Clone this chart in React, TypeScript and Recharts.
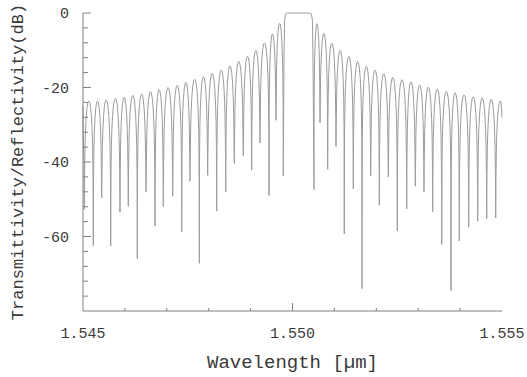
import React from 'react';
import { LineChart, Line, XAxis, YAxis, Label } from 'recharts';

// ---- axis ticks ----
const xTicks = [1.545, 1.546, 1.547, 1.548, 1.549, 1.55, 1.551, 1.552, 1.553, 1.554, 1.555];
const xLabelTicks = [1.545, 1.55, 1.555];
const yTicks = [-80, -76, -72, -68, -64, -60, -56, -52, -48, -44, -40, -36, -32, -28, -24, -20, -16, -12, -8, -4, 0];
const yLabelTicks = [0, -20, -40, -60];

// ---- spectrum ----
// edge values at the ends of the wavelength window
const edgeWl = [1.545, 1.555];
const edgeDb = [-25, -28];

// short-wavelength side: null positions (µm), null depths (dB), lobe peaks (dB)
const leftNulls = [1.544816, 1.545031, 1.545246, 1.545446, 1.545661, 1.545883, 1.546081, 1.546296, 1.546504, 1.546718, 1.546917, 1.547141, 1.547356, 1.547554, 1.547776, 1.547976, 1.548191, 1.548406, 1.548611, 1.548826, 1.549026, 1.549224, 1.549439, 1.549606, 1.54978];
const leftNullDepths = [-40, -52.7, -62.5, -49.6, -62.5, -53.5, -51.9, -66.0, -48.1, -57.2, -52.0, -49.2, -58.8, -45.2, -67.2, -43.6, -53.2, -48.1, -40.4, -38.3, -42.2, -34.9, -49.0, -28.8, -43.8];
const leftPeaks = [-23.6, -23.6, -23.6, -23.3, -22.9, -22.6, -22.1, -21.7, -21.1, -20.6, -20.0, -19.4, -18.6, -17.8, -17.1, -16.2, -15.3, -14.2, -13.0, -11.6, -10.0, -8.0, -5.6, -2.8];

// main reflection band
const bandWl = [1.549797, 1.549811, 1.549833, 1.549857, 1.55043, 1.550454, 1.550475, 1.550489];
const bandDb = [-12, -2, -0.3, 0, 0, -0.3, -2, -12];

// long-wavelength side
const rightNulls = [1.550513, 1.550656, 1.55084, 1.551038, 1.551236, 1.551451, 1.551659, 1.551866, 1.552072, 1.552286, 1.552501, 1.552726, 1.552931, 1.553138, 1.553346, 1.553561, 1.553783, 1.553981, 1.554205, 1.55442, 1.554635, 1.55485, 1.555065];
const rightNullDepths = [-47.4, -29.5, -42.0, -35.8, -59.3, -47.2, -74.0, -43.8, -51.6, -44.0, -58.5, -52.6, -46.5, -48.0, -53.4, -62.1, -74.6, -61.2, -57.5, -55.9, -55.2, -55.0, -50];
const rightPeaks = [-2.9, -5.5, -8.1, -10.0, -11.7, -13.0, -14.3, -15.3, -16.3, -17.3, -17.9, -18.5, -19.3, -19.9, -20.4, -21.0, -21.4, -22.0, -22.5, -22.8, -23.2, -23.6];

// shape of one side lobe: position within the lobe (0..1) and level below its peak (dB)
const lobePos = [0.03, 0.07, 0.12, 0.2, 0.3, 0.4, 0.5, 0.6, 0.7, 0.8, 0.88, 0.93, 0.97];
const lobeLevel = [-20.5, -13.2, -8.7, -4.6, -1.8, -0.4, 0, -0.4, -1.8, -4.6, -8.7, -13.2, -20.5];

type Pt = { wl: number; db: number };

function buildSide(nulls: number[], depths: number[], peaks: number[]): Pt[] {
  const pts: Pt[] = [];
  for (let i = 0; i < nulls.length; i++) {
    pts.push({ wl: nulls[i], db: depths[i] });
    if (i < peaks.length && i + 1 < nulls.length) {
      const a = nulls[i];
      const b = nulls[i + 1];
      lobePos.forEach((t, k) => {
        pts.push({ wl: a + (b - a) * t, db: Math.max(peaks[i] + lobeLevel[k], Math.max(depths[i], depths[i + 1])) });
      });
    }
  }
  return pts;
}

const inside = (p: Pt) => p.wl > edgeWl[0] && p.wl < edgeWl[1];

const spectrum: Pt[] = [
  { wl: edgeWl[0], db: edgeDb[0] },
  ...buildSide(leftNulls, leftNullDepths, leftPeaks).filter(inside),
  ...bandWl.map((wl, i) => ({ wl, db: bandDb[i] })),
  ...buildSide(rightNulls, rightNullDepths, rightPeaks).filter(inside),
  { wl: edgeWl[1], db: edgeDb[1] },
];

const FONT = '"Liberation Mono", "Courier New", monospace';
const TEXT = '#3a3a3a';
const AXIS = '#808080';

const near = (a: number, b: number) => Math.abs(a - b) < 1e-7;

const XTick = (props: any) => {
  const { x, y, payload } = props;
  const v = payload.value as number;
  const major = xLabelTicks.some((m) => near(m, v));
  const drawLine = !near(v, xTicks[0]) && !near(v, xTicks[xTicks.length - 1]);
  return (
    <g>
      {drawLine && <line x1={x} x2={x} y1={y} y2={y - (major ? 8 : 3)} stroke={AXIS} strokeWidth={1} />}
      {major && (
        <text x={x} y={y + 27} textAnchor="middle" fontFamily={FONT} fontSize={15} fill={TEXT}>
          {v.toFixed(3)}
        </text>
      )}
    </g>
  );
};

const YTick = (props: any) => {
  const { x, y, payload } = props;
  const v = payload.value as number;
  const major = yLabelTicks.includes(v);
  if (v === yTicks[0]) return <g />;
  return (
    <g>
      <line x1={x} x2={x + (major ? 8 : 5)} y1={y} y2={y} stroke={AXIS} strokeWidth={1} />
      {major && (
        <text x={x - 14} y={y} dy="0.36em" textAnchor="end" fontFamily={FONT} fontSize={15} fill={TEXT}>
          {String(v)}
        </text>
      )}
    </g>
  );
};

const XTitle = (props: any) => {
  const vb = props.viewBox;
  return (
    <text x={vb.x + vb.width / 2} y={vb.y + 57} textAnchor="middle" fontFamily={FONT} fontSize={19} fill={TEXT}>
      Wavelength [µm]
    </text>
  );
};

const YTitle = (props: any) => {
  const vb = props.viewBox;
  const cx = vb.x + 23;
  const cy = vb.y + vb.height / 2;
  return (
    <text x={cx} y={cy} transform={`rotate(-90, ${cx}, ${cy})`} textAnchor="middle" fontFamily={FONT} fontSize={17} fill={TEXT}>
      Transmittivity/Reflectivity(dB)
    </text>
  );
};

export default function App() {
  return (
    <div style={{ position: 'absolute', left: 0, top: 0, width: 527, height: 377, background: '#fff' }}>
      <LineChart width={527} height={377} data={spectrum} margin={{ top: 13, right: 25, bottom: 0, left: 0 }}>
        <XAxis
          dataKey="wl"
          type="number"
          domain={[1.545, 1.555]}
          ticks={xTicks}
          interval={0}
          tickSize={0}
          tickMargin={0}
          tickLine={false}
          tick={<XTick />}
          axisLine={{ stroke: AXIS, strokeWidth: 1 }}
          height={66}
        >
          <Label content={<XTitle />} />
        </XAxis>
        <YAxis
          type="number"
          domain={[-80, 0]}
          ticks={yTicks}
          interval={0}
          tickSize={0}
          tickMargin={0}
          tickLine={false}
          tick={<YTick />}
          axisLine={{ stroke: AXIS, strokeWidth: 1 }}
          width={83}
        >
          <Label content={<YTitle />} />
        </YAxis>
        <Line
          dataKey="db"
          type="linear"
          stroke="#9c9c9c"
          strokeWidth={1}
          dot={false}
          activeDot={false}
          isAnimationActive={false}
        />
      </LineChart>
    </div>
  );
}
